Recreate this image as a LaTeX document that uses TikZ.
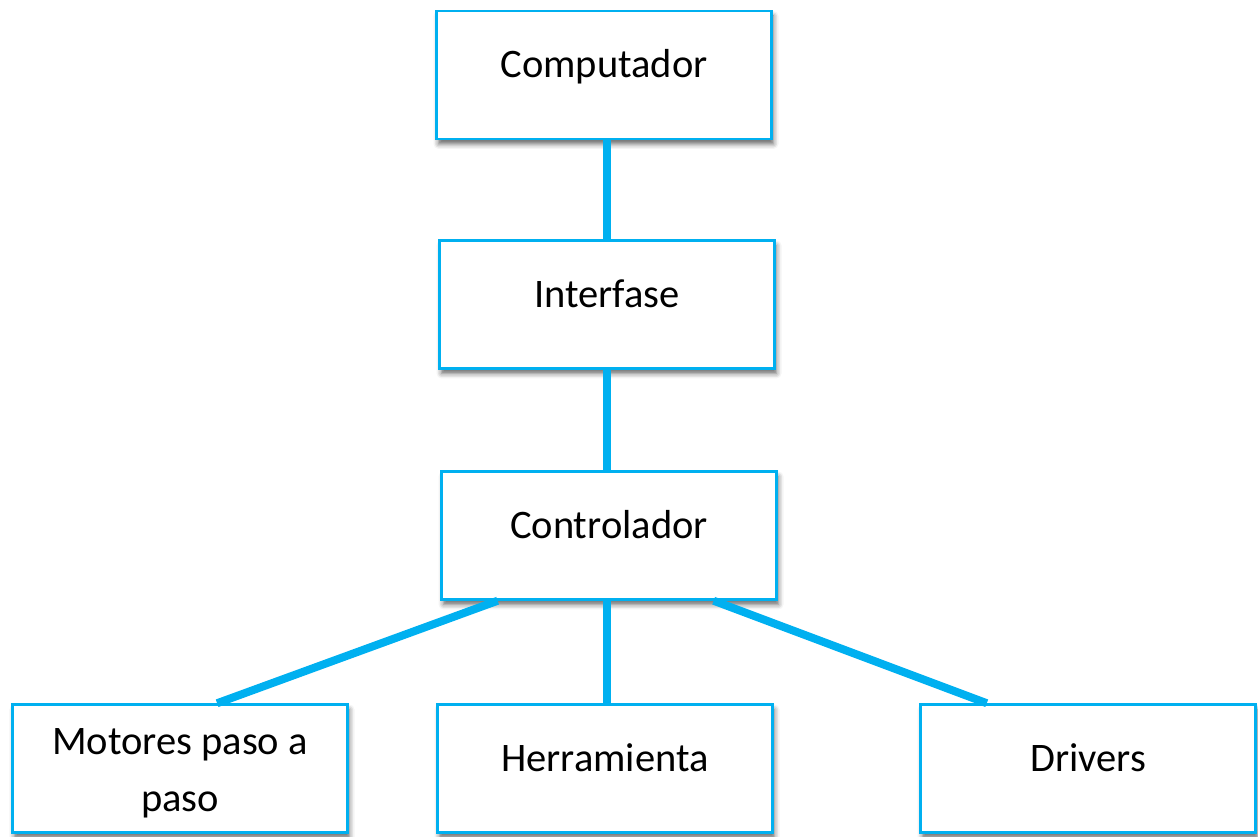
\documentclass[tikz,border=0pt]{standalone}
\usepackage{fontspec}
\setmainfont{Carlito}
\usepackage{tikz}
\usetikzlibrary{calc,shadows.blur}

\definecolor{celeste}{RGB}{0,176,240}

\tikzset{
  box/.style={draw=celeste, line width=2.5pt, fill=white,
    minimum width=335pt, minimum height=128pt, inner sep=0pt,
    font=\fontsize{40.5}{57}\selectfont,
    blur shadow={shadow xshift=2pt, shadow yshift=-5pt, shadow blur radius=5pt,
      shadow opacity=60, shadow blur extra rounding=0pt}},
  oneline/.style={text height=30pt, text depth=24pt},
  link/.style={celeste, line width=8pt}
}

\begin{document}
\begin{tikzpicture}[x=1pt,y=1pt]
\useasboundingbox (0,0) rectangle (1258,837);

\node[box,oneline] (comp) at (604,762) {Computador};
\node[box,oneline] (inter) at (607,532.5) {Interfase};
\node[box,oneline] (contr) at (609,301.5) {Controlador};
\node[box,align=center] (motor) at (180,68.5) {\rule{0pt}{35pt}Motores paso a\\paso};
\node[box,oneline] (herr) at (605,68.5) {Herramienta};
\node[box,oneline] (driv) at (1088,68.5) {Drivers};

\draw[link] (inter.north) -- (inter.north |- comp.south);
\draw[link] (inter.south) -- (inter.south |- contr.north);
\draw[link] ($(contr.south)+(-2,0)$) -- ($(herr.north)+(2,0)$);
\draw[link] ($(contr.south west)!0.17!(contr.south east)$) -- ($(motor.north west)!0.61!(motor.north east)$);
\draw[link] ($(contr.south west)!0.81!(contr.south east)$) -- ($(driv.north west)!0.2!(driv.north east)$);
\end{tikzpicture}
\end{document}
